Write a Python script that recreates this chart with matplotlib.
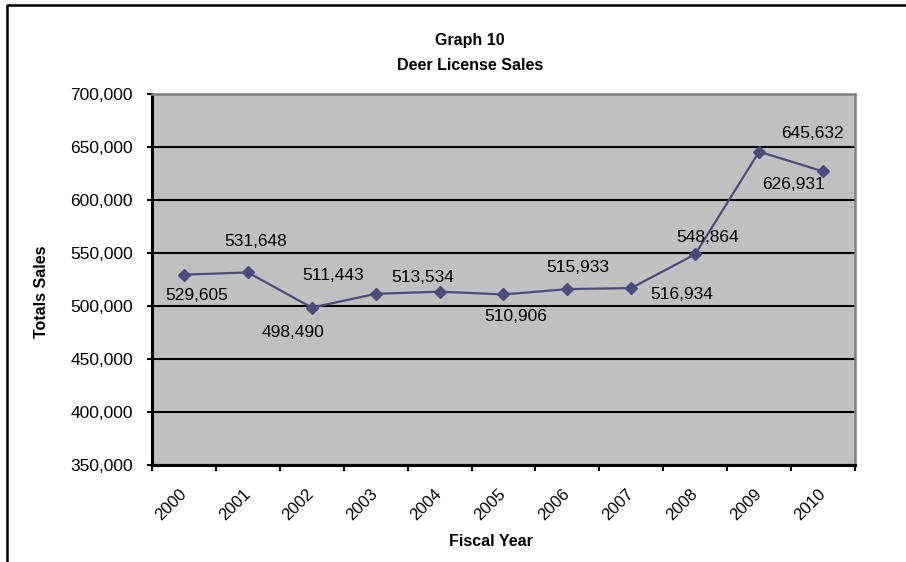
import numpy as np
import matplotlib
matplotlib.use("Agg")
import matplotlib.pyplot as plt
from matplotlib.lines import Line2D
from matplotlib.ticker import FuncFormatter, FixedLocator


years = ["2000", "2001", "2002", "2003", "2004", "2005",
         "2006", "2007", "2008", "2009", "2010"]
sales = [529605, 531648, 498490, 511443, 513534, 510906,
         515933, 516934, 548864, 645632, 626931]

# where excel put each data label, relative to its point (pixels)
label_offsets = [(13, -21), (8, 31), (-19, -25), (-43, 18), (-17, 14), (12, -22),
                 (10, 22), (50, -6), (12, 17), (53, 18), (-30, -13)]

plt.rcParams["font.family"] = ["Liberation Sans", "DejaVu Sans"]

line_color = "#4e4a7c"
fs = 12.5

fig = plt.figure(figsize=(9.06, 5.62), dpi=100)
ax = fig.add_axes([152 / 906, 1 - 465 / 562, (855 - 152) / 906, (465 - 94) / 562])
ax.set_facecolor("#c0c0c0")

x = np.arange(len(years))
ax.plot(x, sales, color=line_color, lw=1.6, marker="D", ms=6, zorder=3)

for xi, v, (dx, dy) in zip(x, sales, label_offsets):
    ax.annotate(f"{v:,}", (xi, v), xytext=(dx, dy), textcoords="offset pixels",
                ha="center", va="center", fontsize=fs, color="black", zorder=4)

ax.set_xlim(-0.5, len(years) - 0.5)
ax.set_ylim(350000, 700000)
ax.set_yticks(np.arange(350000, 700001, 50000))
ax.yaxis.set_major_formatter(FuncFormatter(lambda v, p: f"{int(v):,}"))
ax.grid(axis="y", color="black", lw=1.5)
ax.set_axisbelow(True)

# labels in the middle of each category, tick marks on the boundaries
ax.set_xticks(x)
ax.set_xticklabels(years, rotation=45, ha="right", va="center", rotation_mode="anchor")
ax.xaxis.set_minor_locator(FixedLocator(np.arange(-0.5, len(years), 1.0)))
ax.tick_params(axis="x", which="major", length=0, pad=19, labelsize=fs - 0.5)
ax.tick_params(axis="x", which="minor", length=4.5, width=1.5, direction="out")
ax.tick_params(axis="y", length=3.6, width=1.5, direction="out", pad=10, labelsize=fs)

for s in ["left", "bottom"]:
    ax.spines[s].set_color("black")
    ax.spines[s].set_linewidth(2.2)
for s in ["top", "right"]:
    ax.spines[s].set_color("#808080")
    ax.spines[s].set_linewidth(1.8)

fig.text(470 / 906, 1 - 40 / 562, "Graph 10", ha="center", va="center",
         fontsize=11.5, fontweight="bold")
fig.text(470 / 906, 1 - 65 / 562, "Deer License Sales", ha="center", va="center",
         fontsize=11.5, fontweight="bold")
fig.text(42 / 906, 1 - 292 / 562, "Totals Sales", ha="center", va="center",
         rotation=90, fontsize=11.5, fontweight="bold")
fig.text(491 / 906, 1 - 541 / 562, "Fiscal Year", ha="center", va="center",
         fontsize=11.5, fontweight="bold")

# chart area border (only top and left end up inside the picture)
fig.add_artist(Line2D([7 / 906, 7 / 906, 1.01], [-0.01, 1 - 5 / 562, 1 - 5 / 562],
                      transform=fig.transFigure, color="black", lw=1.8))

plt.savefig("out.png", dpi=100)
plt.close()
